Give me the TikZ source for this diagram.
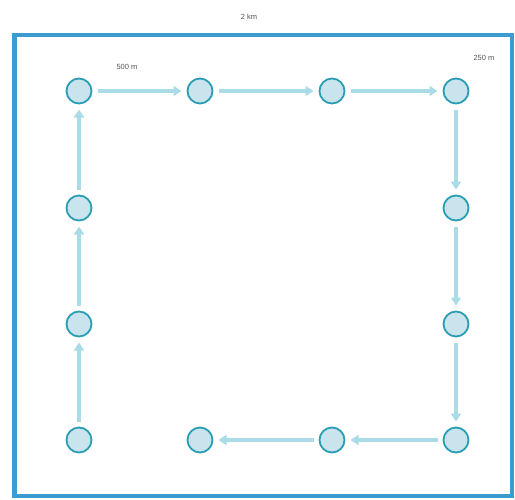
\documentclass[tikz,border=0pt]{standalone}
\usepackage{fontspec}
\setmainfont{Liberation Sans}
\usetikzlibrary{arrows.meta}
\definecolor{frameblue}{HTML}{3A9CCF}
\definecolor{ringteal}{HTML}{2A9DB4}
\definecolor{fillcyan}{HTML}{C9E4EC}
\definecolor{arrowcyan}{HTML}{A9DCE7}
\definecolor{labelgray}{HTML}{555555}
\tikzset{
  spot/.style={circle, draw=ringteal, line width=1.8pt, fill=fillcyan, minimum size=25pt, inner sep=0pt, outer sep=6pt},
  flow/.style={draw=arrowcyan, line width=3.2pt, -{Triangle[length=8pt,width=10pt]}},
  lbl/.style={font=\fontsize{7.5}{9}\selectfont, text=labelgray, inner sep=0pt}
}
\begin{document}
\begin{tikzpicture}[x=1pt,y=-1pt]
\useasboundingbox (0,0) rectangle (515,499);
\draw[frameblue, line width=4.5pt] (14.5,35) rectangle (512,496);
\node[lbl] (t2km) at (249,17) {2 km};
\node[lbl] (t500) at (127,67) {500 m};
\node[lbl] (t250) at (484,58) {250 m};
% nodes
\node[spot] (a1) at (79,91) {};
\node[spot] (a2) at (200,91) {};
\node[spot] (a3) at (332,91) {};
\node[spot] (a4) at (456,91) {};
\node[spot] (b4) at (456,208) {};
\node[spot] (c4) at (456,324) {};
\node[spot] (d4) at (456,440) {};
\node[spot] (d3) at (332,440) {};
\node[spot] (d2) at (200,440) {};
\node[spot] (d1) at (79,440) {};
\node[spot] (c1) at (79,324) {};
\node[spot] (b1) at (79,208) {};
% arrows
\draw[flow] (a1) -- (a2);
\draw[flow] (a2) -- (a3);
\draw[flow] (a3) -- (a4);
\draw[flow] (a4) -- (b4);
\draw[flow] (b4) -- (c4);
\draw[flow] (c4) -- (d4);
\draw[flow] (d4) -- (d3);
\draw[flow] (d3) -- (d2);
\draw[flow] (d1) -- (c1);
\draw[flow] (c1) -- (b1);
\draw[flow] (b1) -- (a1);
\end{tikzpicture}
\end{document}
